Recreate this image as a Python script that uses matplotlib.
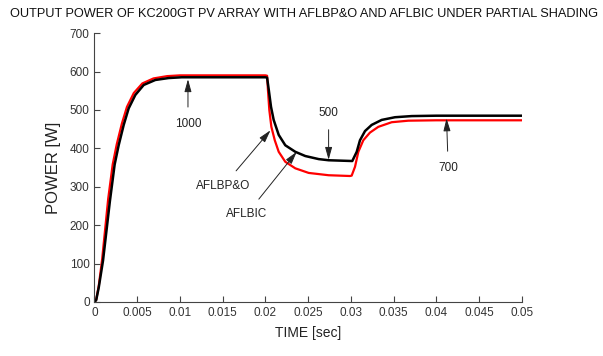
import matplotlib
matplotlib.use('Agg')
import matplotlib.pyplot as plt

plt.rcParams['font.family'] = ['Liberation Sans', 'DejaVu Sans']

# AFLBP&O output power (black)
t_po = [0.0, 0.0002, 0.0005, 0.0010, 0.0018, 0.00236, 0.00283, 0.00342, 0.0040, 0.00478,
        0.00576, 0.00712, 0.00868, 0.0102, 0.0200,
        0.0202, 0.0204, 0.02066, 0.02097, 0.02156, 0.02233, 0.0235, 0.02467, 0.02624,
        0.0274, 0.03017, 0.03069, 0.03107, 0.03166, 0.03244, 0.03361, 0.03517, 0.03713,
        0.0400, 0.0500]
p_po = [0, 5, 38, 108, 262, 358, 408, 461, 504, 539,
        565, 578, 583, 585, 585,
        584, 552, 508, 474, 435, 408, 391, 380, 372,
        369, 367, 391, 421, 445, 461, 474, 481, 484,
        485, 485]

# AFLBIC output power (red)
t_ic = [0.0, 0.0002, 0.0005, 0.0009, 0.0016, 0.00213, 0.0026, 0.0032, 0.0038, 0.0046,
        0.0056, 0.0069, 0.0085, 0.0100, 0.0200,
        0.0202, 0.0203, 0.02046, 0.0207, 0.0211, 0.02156, 0.02233, 0.0235, 0.02507,
        0.0274, 0.0299, 0.0301, 0.03049, 0.03088, 0.03146, 0.03224, 0.03322, 0.03478,
        0.03673, 0.0400, 0.0500]
p_ic = [0, 6, 42, 112, 268, 358, 410, 464, 508, 544,
        569, 582, 588, 590, 590,
        589, 552, 500, 456, 421, 391, 365, 348, 336,
        330, 328, 329, 352, 391, 421, 441, 456, 468,
        472, 473, 473]

x_ticks = [0, 0.005, 0.01, 0.015, 0.02, 0.025, 0.03, 0.035, 0.04, 0.045, 0.05]
x_tick_labels = ['0', '0.005', '0.01', '0.015', '0.02', '0.025', '0.03', '0.035', '0.04', '0.045', '0.05']
y_ticks = [0, 100, 200, 300, 400, 500, 600, 700]

# annotations: label, text position, arrow tip
notes = [
    ('1000', (0.01094, 463), (0.01094, 580)),
    ('500', (0.0274, 493), (0.0274, 370)),
    ('700', (0.0414, 348), (0.0412, 478)),
    ('AFLBP&O', (0.01507, 302), (0.0206, 447)),
    ('AFLBIC', (0.0178, 228), (0.02367, 391)),
]

fig = plt.figure(figsize=(6.03, 3.56), dpi=100)
ax = fig.add_axes([0.1567, 0.1517, 0.7085, 0.7553])

ax.plot(t_ic, p_ic, color='#ff0000', lw=1.6)
ax.plot(t_po, p_po, color='black', lw=1.8)

ax.set_xlim(0, 0.05)
ax.set_ylim(0, 700)
ax.set_xticks(x_ticks)
ax.set_xticklabels(x_tick_labels)
ax.set_yticks(y_ticks)
ax.tick_params(direction='in', length=4, color='#444444', labelcolor='#333333', labelsize=8.5)
for s in ['top', 'right']:
    ax.spines[s].set_visible(False)
for s in ['left', 'bottom']:
    ax.spines[s].set_color('#444444')

for label, txt, tip in notes:
    ax.annotate(label, xy=tip, xytext=txt, ha='center', va='center', fontsize=8.5, color='#222222',
                arrowprops=dict(arrowstyle='-|>,head_length=0.9,head_width=0.25', color='#222222',
                                lw=0.7, shrinkA=6, shrinkB=0))

ax.set_xlabel('TIME [sec]', fontsize=10, color='#222222', labelpad=5)
ax.set_ylabel('POWER [W]', fontsize=12, color='#222222', labelpad=6)
fig.text(0.505, 0.96, 'OUTPUT POWER OF KC200GT PV ARRAY WITH AFLBP&O AND AFLBIC UNDER PARTIAL SHADING',
         ha='center', va='center', fontsize=9.2, color='#111111')

fig.savefig('out.png', dpi=100)
